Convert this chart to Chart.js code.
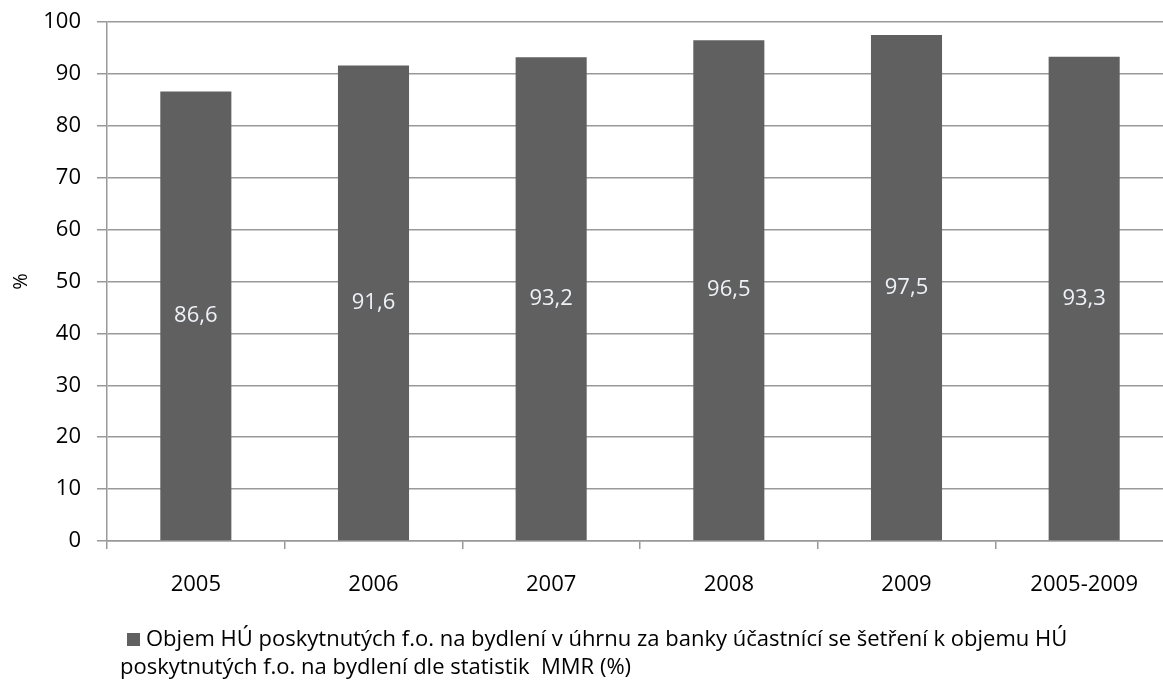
<!DOCTYPE html>
<html>
<head>
<meta charset="utf-8">
<script src="https://cdn.jsdelivr.net/npm/chart.js@4/dist/chart.umd.min.js"></script>
<style>
html,body{margin:0;padding:0;background:#fff;overflow:hidden;}
#wrap{position:absolute;left:0;top:0;width:1173px;height:688px;}
</style>
</head>
<body>
<div id="wrap"><canvas id="c"></canvas></div>
<script>
const categories = ['2005', '2006', '2007', '2008', '2009', '2005-2009'];
const values = [86.6, 91.6, 93.2, 96.5, 97.5, 93.3];
const yTicks = [0, 10, 20, 30, 40, 50, 60, 70, 80, 90, 100];
const yTitle = '%';
const legendLines = [
  'Objem HÚ poskytnutých f.o. na bydlení v úhrnu za banky účastnící se šetření k objemu HÚ',
  'poskytnutých f.o. na bydlení dle statistik  MMR (%)'
];

const FONT = 'Open Sans';
const barColor = '#606060';
const gridColor = '#999999';

const valueLabels = {
  id: 'valueLabels',
  afterDatasetsDraw(chart) {
    const ctx = chart.ctx;
    const meta = chart.getDatasetMeta(0);
    ctx.save();
    ctx.font = '22px "' + FONT + '"';
    ctx.fillStyle = '#eef2f7';
    ctx.textAlign = 'center';
    ctx.textBaseline = 'middle';
    meta.data.forEach((bar, i) => {
      const v = chart.data.datasets[0].data[i];
      ctx.fillText(v.toFixed(1).replace('.', ','), bar.x, (bar.y + bar.base) / 2);
    });
    ctx.restore();
  }
};

const customLegend = {
  id: 'customLegend',
  afterDraw(chart) {
    const ctx = chart.ctx;
    ctx.save();
    ctx.fillStyle = barColor;
    ctx.fillRect(127, 633, 13, 13);
    ctx.font = '22px "' + FONT + '"';
    ctx.fillStyle = '#000';
    ctx.textAlign = 'left';
    ctx.textBaseline = 'middle';
    ctx.fillText(legendLines[0], 146, 640);
    ctx.fillText(legendLines[1], 120, 668);
    ctx.restore();
  }
};

new Chart(document.getElementById('c'), {
  type: 'bar',
  data: {
    labels: categories,
    datasets: [{
      label: legendLines.join(' '),
      data: values,
      backgroundColor: barColor,
      borderWidth: 0,
      barPercentage: 0.8,
      categoryPercentage: 0.5
    }]
  },
  options: {
    responsive: true,
    maintainAspectRatio: false,
    animation: false,
    layout: { padding: { top: 22, bottom: 80, left: 0, right: 0 } },
    plugins: { legend: { display: false }, tooltip: { enabled: false } },
    scales: {
      x: {
        grid: { display: true, drawOnChartArea: false, drawTicks: true, tickLength: 8, color: gridColor, lineWidth: 1.5, offset: true },
        border: { color: gridColor, width: 1.5 },
        ticks: { color: '#000', font: { family: FONT, size: 22 }, padding: 23, maxRotation: 0 },
        afterFit(s) { s.height = 67; s.paddingLeft = 0; s.paddingRight = 0; }
      },
      y: {
        min: 0, max: 100,
        afterBuildTicks(s) { s.ticks = yTicks.map(v => ({ value: v })); },
        grid: { color: gridColor, lineWidth: 1.5, tickLength: 10 },
        border: { color: gridColor, width: 1.5 },
        ticks: { color: '#000', font: { family: FONT, size: 22 }, padding: 16 },
        title: { display: true, text: yTitle, color: '#000', font: { family: FONT, size: 20 }, padding: { top: 9, bottom: 0 } },
        afterFit(s) { s.width = 107; s.paddingTop = 0; s.paddingBottom = 0; }
      }
    }
  },
  plugins: [valueLabels, customLegend]
});
</script>
</body>
</html>
